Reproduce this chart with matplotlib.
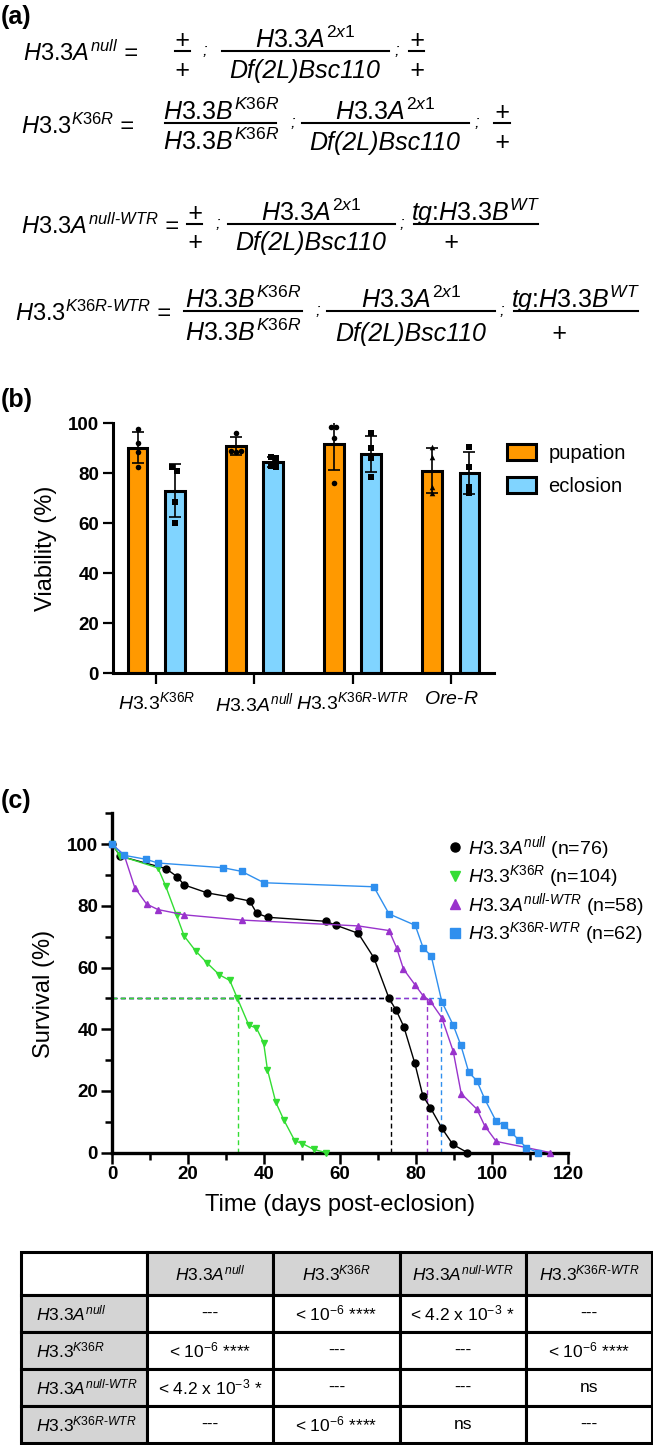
import numpy as np
import matplotlib
matplotlib.use('Agg')
import matplotlib.pyplot as plt
from matplotlib.lines import Line2D
from matplotlib.patches import Patch

# ---------------- data ----------------
bar_categories = ['H3.3K36R', 'H3.3Anull', 'H3.3K36R-WTR', 'Ore-R']
pupation_points = [[97.5, 92.0, 88.5, 82.5],
                   [96.0, 89.0, 88.5, 89.0],
                   [98.5, 98.5, 94.0, 76.0],
                   [90.5, 86.5, 74.5, 72.0]]
eclosion_points = [[82.5, 81.0, 68.5, 60.0],
                   [86.5, 86.0, 83.0, 82.5],
                   [96.0, 90.0, 86.0, 78.5],
                   [90.5, 82.5, 74.5, 72.0]]
bar_series = ['pupation', 'eclosion']

surv_names = ['H3.3Anull', 'H3.3K36R', 'H3.3Anull-WTR', 'H3.3K36R-WTR']
surv_n = [76, 104, 58, 62]
anull_days = [0, 2.2, 14.2, 17.1, 19.0, 25.1, 31.1, 36.2, 38.1, 41.0, 56.2, 59.0,
              64.8, 68.9, 72.9, 74.8, 76.8, 79.7, 81.8, 83.8, 86.8, 89.7, 93.5]
anull_surv = [100, 96.1, 92.1, 89.5, 86.8, 84.2, 82.9, 81.6, 77.6, 76.3, 75.0, 73.7,
              71.1, 63.2, 50.0, 46.1, 40.8, 28.9, 18.4, 14.5, 7.9, 2.6, 0]
k36r_days = [0, 2.2, 12.1, 14.1, 17.0, 19.0, 22.0, 25.0, 28.2, 31.0, 33.0, 36.0,
             38.0, 39.9, 40.9, 43.1, 45.2, 48.1, 50.1, 53.1, 56.2]
k36r_surv = [100, 96.2, 92.3, 86.5, 76.9, 70.2, 65.4, 61.5, 57.7, 55.8, 50.0, 41.3,
             40.4, 35.6, 26.9, 16.3, 10.6, 3.8, 2.9, 1.0, 0]
anullwtr_days = [0, 3.2, 6.0, 9.1, 12.1, 19.0, 34.1, 64.8, 72.9, 74.9, 76.7, 79.8,
                 81.9, 83.7, 86.8, 89.8, 91.9, 96.0, 98.1, 101.1, 109.0, 115.2]
anullwtr_surv = [100, 96.5, 85.9, 80.6, 78.8, 77.1, 75.4, 73.5, 72.0, 66.4, 59.5, 54.3,
                 50.8, 49.2, 43.7, 32.8, 19.1, 14.1, 8.6, 3.6, 1.6, 0]
k36rwtr_days = [0, 3.2, 9.0, 12.1, 29.1, 34.1, 40.0, 68.9, 72.9, 79.8, 81.9, 84.0,
                86.8, 89.8, 91.8, 93.9, 96.0, 98.1, 101.1, 103.1, 105.1, 107.1, 109.0, 112.1]
k36rwtr_surv = [100, 96.4, 95.1, 93.9, 92.4, 91.2, 87.5, 86.2, 77.4, 73.7, 66.3, 63.8,
                48.9, 41.3, 34.8, 26.0, 23.3, 17.3, 10.1, 8.9, 6.5, 4.0, 1.6, 0]
median_days = [73.5, 33.1, 83.0, 86.7]

table_cols = ['H3.3Anull', 'H3.3K36R', 'H3.3Anull-WTR', 'H3.3K36R-WTR']
table_pvals = [['---', r'< 10$^{-6}$ ****', r'< 4.2 x 10$^{-3}$ *', '---'],
               [r'< 10$^{-6}$ ****', '---', '---', r'< 10$^{-6}$ ****'],
               [r'< 4.2 x 10$^{-3}$ *', '---', '---', 'ns'],
               ['---', r'< 10$^{-6}$ ****', 'ns', '---']]

# ---------------- style ----------------
plt.rcParams['font.family'] = ['Liberation Sans', 'DejaVu Sans']
plt.rcParams['mathtext.fontset'] = 'custom'
plt.rcParams['mathtext.it'] = 'Liberation Sans:italic'
plt.rcParams['mathtext.rm'] = 'Liberation Sans'
plt.rcParams['mathtext.bf'] = 'Liberation Sans:bold'

LAB = {'H3.3Anull': r'$\mathit{H3.3A}^{\mathit{null}}$',
       'H3.3K36R': r'$\mathit{H3.3}^{\mathit{K36R}}$',
       'H3.3Anull-WTR': r'$\mathit{H3.3A}^{\mathit{null}\text{-}\mathit{WTR}}$',
       'H3.3K36R-WTR': r'$\mathit{H3.3}^{\mathit{K36R}\text{-}\mathit{WTR}}$',
       'Ore-R': r'$\mathit{Ore}\text{-}\mathit{R}$'}
NUM_2X1 = r'$\mathit{H3.3A}^{\mathit{2x1}}$'
B_K36R = r'$\mathit{H3.3B}^{\mathit{K36R}}$'
TG = r'$\mathit{tg}\text{:}\mathit{H3.3B}^{\mathit{WT}}$'
DF = 'Df(2L)Bsc110'

W, H = 653, 1445
fig = plt.figure(figsize=(W / 100, H / 100), dpi=100)


def fy(y):
    return 1 - y / H


# ---------------- panel (a) ----------------
FS_A = 18
FS_L = 17


def gtext(x, y, s, ha='left', size=FS_A, style='italic'):
    fig.text(x / W, fy(y), s, ha=ha, va='baseline', fontsize=size, style=style)


def hline(x0, x1, y, lw=1.5):
    fig.add_artist(Line2D([x0 / W, x1 / W], [fy(y), fy(y)], transform=fig.transFigure,
                          color='black', lw=lw))


def frac(xc, ybar, x0, x1, num, den, den_dy=27, den_x=None):
    hline(x0, x1, ybar)
    gtext(xc, ybar - 3, num, ha='center')
    gtext(den_x if den_x is not None else xc, ybar + den_dy, den, ha='center')


def semi(x, ybar):
    gtext(x, ybar + 4, ';', ha='center', size=12)


fig.text(1 / W, fy(5), '(a)', fontsize=18, weight='bold', va='top', ha='left')
fig.text(1 / W, fy(388), '(b)', fontsize=18, weight='bold', va='top', ha='left')
fig.text(1 / W, fy(789), '(c)', fontsize=18, weight='bold', va='top', ha='left')

# row 1
gtext(23, 61, LAB['H3.3Anull'] + ' =', size=FS_L)
frac(182, 51, 175, 190, '+', '+')
semi(205, 51)
frac(305, 51, 222, 389, NUM_2X1, DF)
semi(397, 51)
frac(417, 51, 409, 424, '+', '+')
# row 2
gtext(21, 134, LAB['H3.3K36R'] + ' =', size=FS_L)
frac(221, 123, 165, 276, B_K36R, B_K36R)
semi(293, 123)
frac(385, 123, 302, 469, NUM_2X1, DF)
semi(477, 123)
frac(502, 123, 494, 510, '+', '+')
# row 3
gtext(21, 234, LAB['H3.3Anull-WTR'] + ' =', size=FS_L)
frac(195, 224, 187, 202, '+', '+', den_dy=26)
semi(218, 224)
frac(311, 224, 228, 395, NUM_2X1, DF, den_dy=26)
semi(402, 224)
frac(476, 224, 414, 538, TG, '+', den_dy=26, den_x=451)
# row 4
gtext(15, 321, LAB['H3.3K36R-WTR'] + ' =', size=FS_L)
frac(243, 311, 184, 302, B_K36R, B_K36R, den_dy=30)
semi(318, 311)
frac(411, 311, 327, 495, NUM_2X1, DF, den_dy=30)
semi(502, 311)
frac(576, 311, 514, 638, TG, '+', den_dy=30, den_x=559)

# ---------------- panel (b) ----------------
ax_b = fig.add_axes([113 / W, fy(673), 381 / W, 250 / H])
x = np.arange(len(bar_categories))
OFF, BW = 0.19, 0.2
colors_b = ['#ff9900', '#80d4ff']
for k, (pts, col) in enumerate(zip([pupation_points, eclosion_points], colors_b)):
    xs = x + (-OFF if k == 0 else OFF)
    means = [np.mean(p) for p in pts]
    sds = [np.std(p, ddof=1) for p in pts]
    ax_b.bar(xs, means, width=BW, color=col, edgecolor='black', linewidth=2.2, zorder=2)
    ax_b.errorbar(xs, means, yerr=sds, fmt='none', ecolor='black', elinewidth=1.2,
                  capsize=4, capthick=1.2, zorder=3)
    for i, p in enumerate(pts):
        p = np.asarray(p)
        jit = np.zeros(len(p))
        for a in range(len(p)):
            close = [b for b in range(len(p)) if abs(p[b] - p[a]) < 2.0]
            if len(close) > 1:
                jit[a] = (close.index(a) - (len(close) - 1) / 2) * 0.05
        mk = 's' if k == 1 else ('^' if i == 3 else 'o')
        ax_b.scatter(xs[i] + jit, p, s=16, marker=mk, color='black', zorder=4,
                     clip_on=False, linewidths=0)
ax_b.set_xlim(-0.44, 3.44)
ax_b.set_ylim(0, 100)
ax_b.set_yticks(np.arange(0, 101, 20))
ax_b.set_xticks(x)
ax_b.set_xticklabels([LAB[c] for c in bar_categories], fontsize=14)
for lab in ax_b.get_yticklabels():
    lab.set_fontweight('bold')
    lab.set_fontsize(13.5)
ax_b.tick_params(axis='y', length=7, width=1.6, pad=3)
ax_b.tick_params(axis='x', length=8, width=1.6, pad=5)
for s in ['top', 'right']:
    ax_b.spines[s].set_visible(False)
for s in ['left', 'bottom']:
    ax_b.spines[s].set_linewidth(2.2)
fig.text(46 / W, fy(548), 'Viability (%)', rotation=90, ha='center', va='center', fontsize=17)
fig.legend([Patch(facecolor=c, edgecolor='black', linewidth=2.2) for c in colors_b], bar_series,
           loc='upper left', bbox_to_anchor=(507 / W, fy(444)), frameon=False, fontsize=14.5,
           handlelength=1.45, handleheight=0.8, handletextpad=0.6, labelspacing=0.7,
           borderpad=0, borderaxespad=0)

# ---------------- panel (c) ----------------
ax_c = fig.add_axes([112 / W, fy(1152.5), 456 / W, (1152.5 - 813.4) / H])
surv_days = [anull_days, k36r_days, anullwtr_days, k36rwtr_days]
surv_vals = [anull_surv, k36r_surv, anullwtr_surv, k36rwtr_surv]
surv_colors = ['black', '#33dd33', '#9933cc', '#2f8fee']
surv_markers = ['o', 'v', '^', 's']
# median lines (drawn longest first)
for i in np.argsort(median_days)[::-1]:
    ax_c.plot([0, median_days[i]], [50, 50], ls=(0, (3.5, 2.5)), color=surv_colors[i], lw=1, zorder=1)
    ax_c.plot([median_days[i], median_days[i]], [0, 50], ls=(0, (3.5, 2.5)), color=surv_colors[i],
              lw=1, zorder=1)
for d, v, c, m in zip(surv_days, surv_vals, surv_colors, surv_markers):
    ax_c.plot(d, v, color=c, marker=m, ms=5, lw=1, clip_on=False, zorder=3)
ax_c.set_xlim(0, 120)
ax_c.set_ylim(0, 110)
ax_c.set_xticks(np.arange(0, 121, 20))
ax_c.set_xticks(np.arange(10, 120, 20), minor=True)
ax_c.set_yticks(np.arange(0, 101, 20))
ax_c.set_yticks(np.arange(10, 111, 20), minor=True)
for lab in ax_c.get_xticklabels() + ax_c.get_yticklabels():
    lab.set_fontweight('bold')
    lab.set_fontsize(13.5)
ax_c.tick_params(which='major', length=8, width=1.8, pad=2)
ax_c.tick_params(which='minor', length=5, width=1.8)
for s in ['top', 'right']:
    ax_c.spines[s].set_visible(False)
for s in ['left', 'bottom']:
    ax_c.spines[s].set_linewidth(2.4)
ax_c.set_xlabel('Time (days post-eclosion)', fontsize=17, labelpad=8)
fig.text(44 / W, fy(994), 'Survival (%)', rotation=90, ha='center', va='center', fontsize=17)
handles = [Line2D([], [], ls='none', marker=m, color=c, ms=6.5) for c, m in zip(surv_colors, surv_markers)]
labels = [LAB[nm] + ' (n=%d)' % n for nm, n in zip(surv_names, surv_n)]
fig.legend(handles, labels, loc='upper left', bbox_to_anchor=(447 / W, fy(834)), frameon=False,
           fontsize=14, handlelength=0.8, handletextpad=0.3, labelspacing=0.08,
           borderpad=0, borderaxespad=0)

# ---------------- table ----------------
ax_t = fig.add_axes([21 / W, fy(1443), 631 / W, 191 / H])
ax_t.axis('off')
GREY = '#d4d4d4'
cell_text = [[''] + [LAB[c] for c in table_cols]] + \
            [[LAB[r]] + row for r, row in zip(table_cols, table_pvals)]
cell_cols = [['white'] + [GREY] * 4] + [[GREY] + ['white'] * 4 for _ in table_cols]
tb = ax_t.table(cellText=cell_text, cellColours=cell_cols, cellLoc='center', bbox=[0, 0, 1, 1])
tb.auto_set_font_size(False)
tb.set_fontsize(12.5)
for (r, c), cell in tb.get_celld().items():
    cell.set_linewidth(2.2)
    cell.set_edgecolor('black')
    cell.set_height(43 if r == 0 else 37.5)
    if c == 0 and r > 0:
        cell._loc = 'left'
        cell.PAD = 0.12
        cell.get_text().set_ha('left')

fig.savefig('out.png', dpi=100)
